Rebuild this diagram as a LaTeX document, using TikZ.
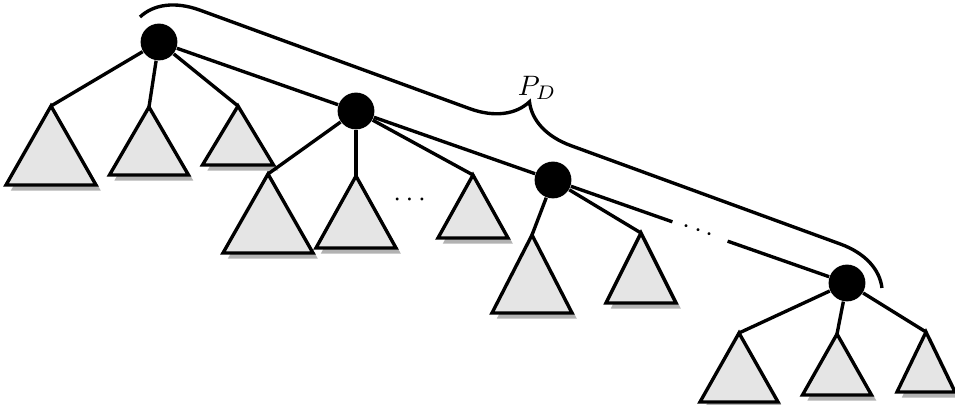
\documentclass[tikz,border=0pt]{standalone}
\usepackage{amsmath}
\usepackage{tikz}
\usetikzlibrary{shadows,decorations.pathreplacing,positioning}

% subtree: name, apex x, apex y, half width, height
\newcommand{\subtree}[5]{%
  \coordinate (#1) at (#2,#3);
  \path[tri] (#1) -- ++(-#4,-#5) -- ++(2*#4,0) -- cycle;
}

\begin{document}
\begin{tikzpicture}[x=0.125mm, y=0.125mm]
  \tikzstyle{spine} = [circle, fill=black, inner sep=0pt, minimum size=4.6mm]
  \tikzstyle{tri} = [draw, line width=1.2pt, fill=black!10,
    drop shadow={shadow xshift=0.6mm, shadow yshift=-0.7mm, fill=black!30, opacity=1}]
  \tikzstyle{link} = [line width=1.2pt]

  \useasboundingbox (0,0) rectangle (955,405);

  % spine nodes
  \node[spine] (r1) at (159,363) {};
  \node[spine] (r2) at (356,294) {};
  \node[spine] (r3) at (553,225) {};
  \node[spine] (r4) at (847,122) {};

  % subtrees of r1
  \subtree{t1}{51}{299}{45}{79}
  \subtree{t2}{149}{298}{39.5}{68}
  \subtree{t3}{238}{299}{35.5}{59}

  % subtrees of r2
  \subtree{t4}{268}{231}{45}{79}
  \subtree{t5}{356}{229}{40}{72}
  \subtree{t6}{473}{230}{35}{63}

  % subtrees of r3
  \subtree{t7}{532}{170}{40}{78}
  \subtree{t8}{641}{172}{35}{70}

  % subtrees of r4
  \subtree{t9}{739}{72}{39}{69}
  \subtree{t10}{837}{71}{34.5}{61}
  \subtree{t11}{926}{73}{29}{60}

  % connection lines
  \path[link] (r1) edge (t1);
  \path[link] (r1) edge (t2);
  \path[link] (r1) edge (t3);
  \path[link] (r1) edge (r2);

  \path[link] (r2) edge (t4);
  \path[link] (r2) edge (t5);
  \path[link] (r2) edge (t6);
  \path[link] (r2) edge (r3);

  \path[link] (r3) edge (t7);
  \path[link] (r3) edge (t8);
  \draw[link] (r3) -- node[sloped, fill=white, inner xsep=3.7pt, inner ysep=1pt] (gap) {$\cdots$} (r4);

  \path[link] (r4) edge (t9);
  \path[link] (r4) edge (t10);
  \path[link] (r4) edge (t11);

  \node (dots) at (412,205) {$\cdots$};

  % brace over the path
  \coordinate (bl) at (140,388);
  \coordinate (br) at (882,117);
  \draw[line width=1.2pt, decorate, decoration={brace, amplitude=6.75mm}] (bl) -- (br);
  \node (pd) at (537,317) {$P_D$};

\end{tikzpicture}
\end{document}
